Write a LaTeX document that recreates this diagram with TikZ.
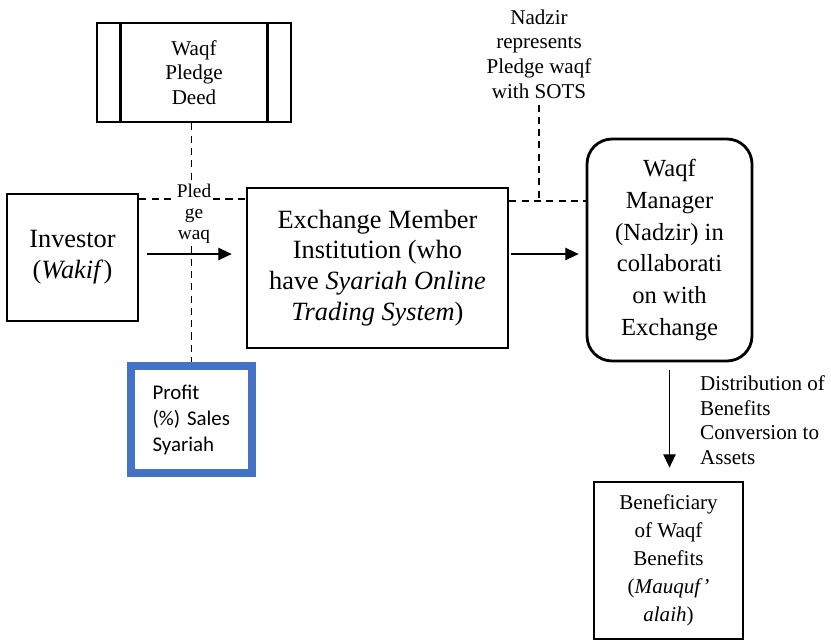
\documentclass[tikz,border=0pt]{standalone}
\usepackage{fontspec}
\setmainfont{Liberation Serif}
\newfontfamily\calibri{Carlito}
\usepackage{xcolor}
\usetikzlibrary{shapes,arrows.meta,positioning,calc}
\definecolor{wordblue}{RGB}{68,114,196}

\begin{document}
\begin{tikzpicture}[x=0.02cm, y=-0.02cm,
    box/.style={draw, line width=1.6pt, align=center},
    dashline/.style={dash pattern=on 4pt off 3pt, line width=0.7pt},
    flow/.style={-{Triangle[length=7.5pt,width=7pt]}, line width=0.6pt},
    small/.style={font=\fontsize{12}{14}\selectfont},
    big/.style={font=\fontsize{15}{17.5}\selectfont}]
    \useasboundingbox (0,0) rectangle (831,640);

    % Waqf pledge deed
    \node[box, small, minimum width=3.88cm, minimum height=1.98cm] (deed) at (194,72.5) {Waqf\\Pledge\\Deed};
    \draw[line width=1.6pt] ($(deed.north west)+(25,0)$) -- ($(deed.south west)+(25,0)$);
    \draw[line width=1.6pt] ($(deed.north east)+(-25,0)$) -- ($(deed.south east)+(-25,0)$);

    % main row
    \node[box, big, minimum width=2.62cm, minimum height=2.54cm] (investor) at (72.5,257.5) {Investor\\(\textit{Wakif})};
    \node[box, big, minimum width=5.22cm, minimum height=3.2cm] (exch) at (377.5,268)
        {Exchange Member\\Institution (who\\have \textit{Syariah Online}\\\textit{Trading System})};
    \node[box, font=\fontsize{14}{18}\selectfont, rounded corners=0.5cm, minimum width=3.3cm, minimum height=4.44cm] (mgr) at (669.5,250)
        {Waqf\\Manager\\(Nadzir) in\\collaborati\\on with\\Exchange};

    % profit box
    \node[draw=wordblue, line width=4.5pt, align=left, text width=1.56cm, inner xsep=0.43cm, minimum height=2.14cm,
        font=\calibri\fontsize{11.9}{14.8}\selectfont] (profit) at (191.5,419.5) {Profit\\(\%) Sales\\Syariah};

    % beneficiary
    \node[box, font=\fontsize{12}{16}\selectfont, minimum width=2.98cm, minimum height=3.14cm] (benef) at (668.5,560.5)
        {Beneficiary\\of Waqf\\Benefits\\(\textit{Mauquf'}\\\textit{alaih})};

    % dashed links
    \coordinate (pledrow) at (0,199);
    \coordinate (nadzrow) at (0,201);
    \coordinate (flowrow) at (0,254);
    \draw[dashline] (profit.north |- deed.south) -- (profit.north);
    \draw[dashline] (investor.east |- pledrow) -- (exch.west |- pledrow);
    \node[fill=white, align=center, inner sep=1pt, font=\fontsize{11}{12}\selectfont] (pledge) at (194,214) {Pled\\ge\\waq};

    \node[small, align=center] (nadzir) at (539,54) {Nadzir\\represents\\Pledge waqf\\with SOTS};
    \draw[dashline] (exch.east |- nadzrow) -- (mgr.west |- nadzrow);
    \draw[dashline] (nadzir.south) -- (nadzir.south |- nadzrow);

    % arrows
    \draw[flow, shorten <=0.16cm, shorten >=0.28cm] (investor.east |- flowrow) -- (exch.west |- flowrow);
    \draw[flow, shorten <=0.04cm, shorten >=0.14cm] (exch.east |- flowrow) -- (mgr.west |- flowrow);
    \draw[flow, shorten <=0.16cm, shorten >=0.26cm] (mgr.south) -- (mgr.south |- benef.north);
    \node[small, align=left, anchor=west] (distr) at (694,420) {Distribution of\\Benefits\\Conversion to\\Assets};
\end{tikzpicture}
\end{document}
